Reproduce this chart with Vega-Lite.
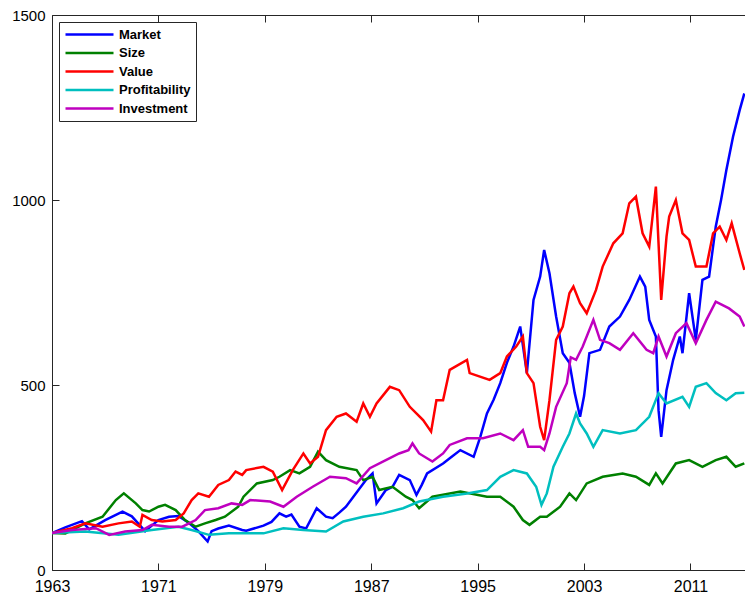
{
"$schema":"https://vega.github.io/schema/vega-lite/v6.json",
"width":693,"height":555,
"autosize":{"type":"none"},
"padding":{"left":52,"top":15,"right":0,"bottom":25},
"background":"white",
"config":{"view":{"stroke":null},"font":"Liberation Sans"},
"datasets":{"d":[
{"s":"Market","t":1963.0,"v":100},{"s":"Market","t":1964.0,"v":115},{"s":"Market","t":1965.25,"v":132},{"s":"Market","t":1965.8,"v":110},{"s":"Market","t":1967.0,"v":135},{"s":"Market","t":1968.3,"v":158},{"s":"Market","t":1969.0,"v":145},{"s":"Market","t":1970.0,"v":105},{"s":"Market","t":1970.5,"v":120},{"s":"Market","t":1971.0,"v":135},{"s":"Market","t":1971.8,"v":144},{"s":"Market","t":1972.5,"v":146},{"s":"Market","t":1973.3,"v":127},{"s":"Market","t":1974.0,"v":105},{"s":"Market","t":1974.7,"v":77},{"s":"Market","t":1975.0,"v":105},{"s":"Market","t":1975.5,"v":112},{"s":"Market","t":1976.3,"v":120},{"s":"Market","t":1977.3,"v":108},{"s":"Market","t":1977.6,"v":106},{"s":"Market","t":1978.9,"v":120},{"s":"Market","t":1979.5,"v":130},{"s":"Market","t":1980.1,"v":153},{"s":"Market","t":1980.6,"v":144},{"s":"Market","t":1981.0,"v":150},{"s":"Market","t":1981.6,"v":117},{"s":"Market","t":1982.1,"v":112},{"s":"Market","t":1982.9,"v":167},{"s":"Market","t":1983.6,"v":144},{"s":"Market","t":1984.1,"v":140},{"s":"Market","t":1984.6,"v":155},{"s":"Market","t":1985.1,"v":171},{"s":"Market","t":1985.8,"v":205},{"s":"Market","t":1986.6,"v":243},{"s":"Market","t":1987.1,"v":261},{"s":"Market","t":1987.4,"v":180},{"s":"Market","t":1988.1,"v":216},{"s":"Market","t":1988.6,"v":225},{"s":"Market","t":1989.1,"v":257},{"s":"Market","t":1989.9,"v":243},{"s":"Market","t":1990.4,"v":203},{"s":"Market","t":1990.8,"v":230},{"s":"Market","t":1991.2,"v":261},{"s":"Market","t":1992.4,"v":288},{"s":"Market","t":1993.0,"v":305},{"s":"Market","t":1993.7,"v":324},{"s":"Market","t":1994.7,"v":306},{"s":"Market","t":1995.2,"v":360},{"s":"Market","t":1995.7,"v":423},{"s":"Market","t":1996.2,"v":460},{"s":"Market","t":1996.7,"v":505},{"s":"Market","t":1997.2,"v":560},{"s":"Market","t":1997.7,"v":604},{"s":"Market","t":1998.2,"v":658},{"s":"Market","t":1998.7,"v":532},{"s":"Market","t":1999.2,"v":730},{"s":"Market","t":1999.7,"v":793},{"s":"Market","t":2000.0,"v":865},{"s":"Market","t":2000.4,"v":802},{"s":"Market","t":2000.9,"v":685},{"s":"Market","t":2001.4,"v":586},{"s":"Market","t":2001.9,"v":560},{"s":"Market","t":2002.3,"v":478},{"s":"Market","t":2002.7,"v":414},{"s":"Market","t":2003.0,"v":470},{"s":"Market","t":2003.4,"v":586},{"s":"Market","t":2004.2,"v":595},{"s":"Market","t":2004.9,"v":658},{"s":"Market","t":2005.7,"v":685},{"s":"Market","t":2006.4,"v":730},{"s":"Market","t":2007.2,"v":793},{"s":"Market","t":2007.6,"v":766},{"s":"Market","t":2007.9,"v":676},{"s":"Market","t":2008.4,"v":631},{"s":"Market","t":2008.6,"v":432},{"s":"Market","t":2008.8,"v":360},{"s":"Market","t":2009.2,"v":486},{"s":"Market","t":2009.7,"v":568},{"s":"Market","t":2010.2,"v":631},{"s":"Market","t":2010.4,"v":586},{"s":"Market","t":2010.9,"v":748},{"s":"Market","t":2011.4,"v":622},{"s":"Market","t":2011.9,"v":784},{"s":"Market","t":2012.4,"v":793},{"s":"Market","t":2012.9,"v":928},{"s":"Market","t":2013.3,"v":1000},{"s":"Market","t":2013.7,"v":1081},{"s":"Market","t":2014.2,"v":1171},{"s":"Market","t":2014.7,"v":1243},{"s":"Market","t":2015.05,"v":1288},
{"s":"Size","t":1963.0,"v":100},{"s":"Size","t":1964.0,"v":99},{"s":"Size","t":1965.5,"v":126},{"s":"Size","t":1966.8,"v":144},{"s":"Size","t":1967.8,"v":189},{"s":"Size","t":1968.4,"v":207},{"s":"Size","t":1969.3,"v":180},{"s":"Size","t":1969.8,"v":162},{"s":"Size","t":1970.3,"v":158},{"s":"Size","t":1971.0,"v":171},{"s":"Size","t":1971.5,"v":176},{"s":"Size","t":1972.3,"v":162},{"s":"Size","t":1973.0,"v":135},{"s":"Size","t":1973.8,"v":117},{"s":"Size","t":1974.5,"v":126},{"s":"Size","t":1975.3,"v":135},{"s":"Size","t":1976.0,"v":144},{"s":"Size","t":1977.0,"v":171},{"s":"Size","t":1977.4,"v":198},{"s":"Size","t":1978.4,"v":234},{"s":"Size","t":1979.6,"v":243},{"s":"Size","t":1980.1,"v":252},{"s":"Size","t":1980.9,"v":270},{"s":"Size","t":1981.6,"v":261},{"s":"Size","t":1982.4,"v":279},{"s":"Size","t":1983.0,"v":320},{"s":"Size","t":1983.6,"v":297},{"s":"Size","t":1984.6,"v":279},{"s":"Size","t":1985.9,"v":270},{"s":"Size","t":1986.4,"v":243},{"s":"Size","t":1987.1,"v":252},{"s":"Size","t":1987.6,"v":216},{"s":"Size","t":1988.6,"v":225},{"s":"Size","t":1989.6,"v":198},{"s":"Size","t":1990.1,"v":189},{"s":"Size","t":1990.6,"v":167},{"s":"Size","t":1991.6,"v":198},{"s":"Size","t":1993.7,"v":212},{"s":"Size","t":1995.7,"v":198},{"s":"Size","t":1996.7,"v":198},{"s":"Size","t":1997.7,"v":171},{"s":"Size","t":1998.4,"v":135},{"s":"Size","t":1998.9,"v":122},{"s":"Size","t":1999.7,"v":144},{"s":"Size","t":2000.2,"v":144},{"s":"Size","t":2001.2,"v":171},{"s":"Size","t":2001.9,"v":207},{"s":"Size","t":2002.4,"v":189},{"s":"Size","t":2003.2,"v":234},{"s":"Size","t":2004.4,"v":252},{"s":"Size","t":2005.9,"v":261},{"s":"Size","t":2006.9,"v":252},{"s":"Size","t":2007.9,"v":230},{"s":"Size","t":2008.4,"v":261},{"s":"Size","t":2008.9,"v":234},{"s":"Size","t":2009.9,"v":288},{"s":"Size","t":2010.9,"v":297},{"s":"Size","t":2011.9,"v":279},{"s":"Size","t":2012.9,"v":297},{"s":"Size","t":2013.7,"v":306},{"s":"Size","t":2014.4,"v":279},{"s":"Size","t":2015.05,"v":288},
{"s":"Value","t":1963.0,"v":100},{"s":"Value","t":1964.5,"v":113},{"s":"Value","t":1965.5,"v":126},{"s":"Value","t":1966.8,"v":117},{"s":"Value","t":1968.0,"v":126},{"s":"Value","t":1969.0,"v":131},{"s":"Value","t":1969.6,"v":117},{"s":"Value","t":1969.8,"v":149},{"s":"Value","t":1970.5,"v":135},{"s":"Value","t":1971.3,"v":131},{"s":"Value","t":1972.3,"v":135},{"s":"Value","t":1972.9,"v":153},{"s":"Value","t":1973.5,"v":189},{"s":"Value","t":1974.0,"v":207},{"s":"Value","t":1974.8,"v":198},{"s":"Value","t":1975.5,"v":230},{"s":"Value","t":1976.3,"v":243},{"s":"Value","t":1976.8,"v":266},{"s":"Value","t":1977.3,"v":257},{"s":"Value","t":1977.6,"v":270},{"s":"Value","t":1978.9,"v":279},{"s":"Value","t":1979.6,"v":266},{"s":"Value","t":1980.3,"v":216},{"s":"Value","t":1981.1,"v":270},{"s":"Value","t":1981.9,"v":315},{"s":"Value","t":1982.4,"v":288},{"s":"Value","t":1983.0,"v":306},{"s":"Value","t":1983.6,"v":378},{"s":"Value","t":1984.4,"v":414},{"s":"Value","t":1985.1,"v":423},{"s":"Value","t":1985.9,"v":401},{"s":"Value","t":1986.4,"v":450},{"s":"Value","t":1986.9,"v":414},{"s":"Value","t":1987.4,"v":450},{"s":"Value","t":1988.4,"v":495},{"s":"Value","t":1989.1,"v":486},{"s":"Value","t":1989.9,"v":441},{"s":"Value","t":1990.9,"v":405},{"s":"Value","t":1991.5,"v":374},{"s":"Value","t":1991.9,"v":459},{"s":"Value","t":1992.4,"v":459},{"s":"Value","t":1992.9,"v":541},{"s":"Value","t":1994.2,"v":568},{"s":"Value","t":1994.4,"v":532},{"s":"Value","t":1995.9,"v":514},{"s":"Value","t":1996.7,"v":532},{"s":"Value","t":1997.2,"v":577},{"s":"Value","t":1997.9,"v":604},{"s":"Value","t":1998.4,"v":631},{"s":"Value","t":1998.7,"v":532},{"s":"Value","t":1999.2,"v":505},{"s":"Value","t":1999.7,"v":387},{"s":"Value","t":2000.0,"v":351},{"s":"Value","t":2000.4,"v":459},{"s":"Value","t":2000.9,"v":622},{"s":"Value","t":2001.4,"v":658},{"s":"Value","t":2001.9,"v":748},{"s":"Value","t":2002.2,"v":766},{"s":"Value","t":2002.7,"v":721},{"s":"Value","t":2003.2,"v":694},{"s":"Value","t":2003.9,"v":757},{"s":"Value","t":2004.4,"v":820},{"s":"Value","t":2005.2,"v":883},{"s":"Value","t":2005.9,"v":910},{"s":"Value","t":2006.4,"v":991},{"s":"Value","t":2006.9,"v":1009},{"s":"Value","t":2007.4,"v":910},{"s":"Value","t":2007.9,"v":874},{"s":"Value","t":2008.4,"v":1036},{"s":"Value","t":2008.8,"v":730},{"s":"Value","t":2009.2,"v":901},{"s":"Value","t":2009.4,"v":955},{"s":"Value","t":2009.9,"v":1000},{"s":"Value","t":2010.4,"v":910},{"s":"Value","t":2010.9,"v":892},{"s":"Value","t":2011.4,"v":820},{"s":"Value","t":2012.2,"v":820},{"s":"Value","t":2012.7,"v":910},{"s":"Value","t":2013.2,"v":928},{"s":"Value","t":2013.7,"v":892},{"s":"Value","t":2014.1,"v":937},{"s":"Value","t":2014.7,"v":856},{"s":"Value","t":2015.05,"v":811},
{"s":"Profitability","t":1963.0,"v":100},{"s":"Profitability","t":1965.5,"v":104},{"s":"Profitability","t":1968.0,"v":95},{"s":"Profitability","t":1970.5,"v":108},{"s":"Profitability","t":1972.5,"v":117},{"s":"Profitability","t":1973.5,"v":108},{"s":"Profitability","t":1974.8,"v":95},{"s":"Profitability","t":1976.3,"v":99},{"s":"Profitability","t":1978.9,"v":99},{"s":"Profitability","t":1980.4,"v":113},{"s":"Profitability","t":1981.9,"v":108},{"s":"Profitability","t":1983.6,"v":104},{"s":"Profitability","t":1984.9,"v":131},{"s":"Profitability","t":1986.4,"v":144},{"s":"Profitability","t":1987.9,"v":153},{"s":"Profitability","t":1989.4,"v":167},{"s":"Profitability","t":1990.6,"v":185},{"s":"Profitability","t":1992.4,"v":198},{"s":"Profitability","t":1994.2,"v":207},{"s":"Profitability","t":1995.7,"v":216},{"s":"Profitability","t":1996.7,"v":252},{"s":"Profitability","t":1997.7,"v":270},{"s":"Profitability","t":1998.7,"v":261},{"s":"Profitability","t":1999.4,"v":225},{"s":"Profitability","t":1999.8,"v":176},{"s":"Profitability","t":2000.2,"v":207},{"s":"Profitability","t":2000.7,"v":279},{"s":"Profitability","t":2001.4,"v":333},{"s":"Profitability","t":2001.9,"v":369},{"s":"Profitability","t":2002.4,"v":423},{"s":"Profitability","t":2002.7,"v":396},{"s":"Profitability","t":2003.2,"v":369},{"s":"Profitability","t":2003.7,"v":333},{"s":"Profitability","t":2004.4,"v":378},{"s":"Profitability","t":2005.7,"v":369},{"s":"Profitability","t":2006.9,"v":378},{"s":"Profitability","t":2007.9,"v":414},{"s":"Profitability","t":2008.6,"v":478},{"s":"Profitability","t":2009.2,"v":450},{"s":"Profitability","t":2010.4,"v":468},{"s":"Profitability","t":2010.9,"v":441},{"s":"Profitability","t":2011.4,"v":495},{"s":"Profitability","t":2012.2,"v":505},{"s":"Profitability","t":2012.9,"v":478},{"s":"Profitability","t":2013.7,"v":459},{"s":"Profitability","t":2014.4,"v":478},{"s":"Profitability","t":2015.05,"v":479},
{"s":"Investment","t":1963.0,"v":100},{"s":"Investment","t":1964.5,"v":108},{"s":"Investment","t":1966.3,"v":113},{"s":"Investment","t":1967.3,"v":95},{"s":"Investment","t":1968.5,"v":104},{"s":"Investment","t":1969.8,"v":108},{"s":"Investment","t":1970.5,"v":122},{"s":"Investment","t":1971.8,"v":117},{"s":"Investment","t":1972.8,"v":117},{"s":"Investment","t":1973.8,"v":135},{"s":"Investment","t":1974.5,"v":162},{"s":"Investment","t":1975.5,"v":167},{"s":"Investment","t":1976.5,"v":180},{"s":"Investment","t":1977.3,"v":176},{"s":"Investment","t":1977.9,"v":189},{"s":"Investment","t":1979.4,"v":185},{"s":"Investment","t":1980.4,"v":171},{"s":"Investment","t":1981.4,"v":198},{"s":"Investment","t":1982.6,"v":225},{"s":"Investment","t":1983.9,"v":252},{"s":"Investment","t":1985.1,"v":248},{"s":"Investment","t":1985.9,"v":234},{"s":"Investment","t":1986.9,"v":275},{"s":"Investment","t":1988.1,"v":297},{"s":"Investment","t":1989.1,"v":315},{"s":"Investment","t":1989.8,"v":324},{"s":"Investment","t":1990.1,"v":342},{"s":"Investment","t":1990.6,"v":315},{"s":"Investment","t":1991.6,"v":293},{"s":"Investment","t":1992.4,"v":315},{"s":"Investment","t":1992.9,"v":338},{"s":"Investment","t":1994.2,"v":356},{"s":"Investment","t":1995.4,"v":356},{"s":"Investment","t":1996.7,"v":369},{"s":"Investment","t":1997.7,"v":351},{"s":"Investment","t":1998.4,"v":378},{"s":"Investment","t":1998.8,"v":333},{"s":"Investment","t":1999.7,"v":333},{"s":"Investment","t":2000.0,"v":324},{"s":"Investment","t":2000.4,"v":369},{"s":"Investment","t":2000.9,"v":441},{"s":"Investment","t":2001.7,"v":505},{"s":"Investment","t":2002.0,"v":575},{"s":"Investment","t":2002.4,"v":568},{"s":"Investment","t":2002.9,"v":604},{"s":"Investment","t":2003.7,"v":676},{"s":"Investment","t":2004.2,"v":622},{"s":"Investment","t":2004.9,"v":613},{"s":"Investment","t":2005.7,"v":595},{"s":"Investment","t":2006.7,"v":640},{"s":"Investment","t":2007.7,"v":595},{"s":"Investment","t":2008.2,"v":586},{"s":"Investment","t":2008.6,"v":631},{"s":"Investment","t":2009.2,"v":577},{"s":"Investment","t":2009.9,"v":640},{"s":"Investment","t":2010.7,"v":667},{"s":"Investment","t":2011.4,"v":613},{"s":"Investment","t":2012.2,"v":676},{"s":"Investment","t":2012.9,"v":725},{"s":"Investment","t":2013.9,"v":707},{"s":"Investment","t":2014.7,"v":685},{"s":"Investment","t":2015.05,"v":658}
]},
"data":{"name":"d"},
"layer":[
{"mark":{"type":"line","strokeWidth":2.5,"clip":true},
 "encoding":{
  "x":{"field":"t","type":"quantitative","scale":{"domain":[1963,2015.1],"nice":false,"zero":false},
       "axis":{"orient":"bottom","values":[1963,1971,1979,1987,1995,2003,2011],"format":"d","tickSize":-7,"labelPadding":15,"labelFlush":false,"labelOverlap":false,"labelFontSize":16,"labelColor":"black","domainColor":"#262626","tickColor":"#262626","grid":false,"title":null}},
  "y":{"field":"v","type":"quantitative","scale":{"domain":[0,1500],"nice":false},
       "axis":{"values":[0,500,1000,1500],"format":"d","tickSize":-7,"labelPadding":14,"labelFlush":false,"labelOverlap":false,"labelFontSize":15,"labelColor":"black","domainColor":"#262626","tickColor":"#262626","grid":false,"title":null}},
  "color":{"field":"s","type":"nominal",
     "scale":{"domain":["Market","Size","Value","Profitability","Investment"],"range":["#0000FF","#008000","#FF0000","#00BFBF","#BF00BF"]},
     "legend":{"title":null,"orient":"top-left","offset":7,"padding":5,"fillColor":"white","strokeColor":"#262626","symbolType":"M-1,0H7","symbolSize":144,"symbolStrokeWidth":2.5,"labelOffset":40,"labelFontSize":13,"labelFontWeight":"bold","labelColor":"black","rowPadding":3.5}}
 }},
{"mark":{"type":"line","opacity":0},
 "encoding":{
  "x":{"field":"t","type":"quantitative",
       "axis":{"orient":"top","values":[1963,1971,1979,1987,1995,2003,2011],"labels":false,"tickSize":-7,"domainColor":"#262626","tickColor":"#262626","grid":false,"title":null}},
  "y":{"field":"v","type":"quantitative"},
  "detail":{"field":"s"}
 }}
],
"resolve":{"axis":{"x":"independent"}}
}
